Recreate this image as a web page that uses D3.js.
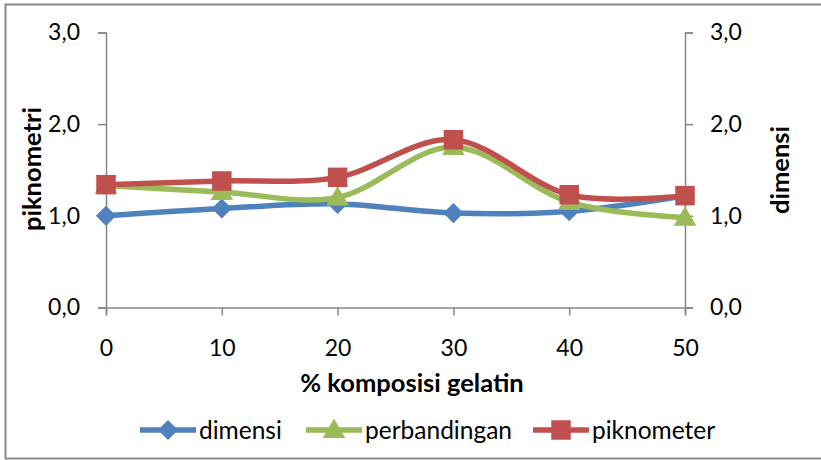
<!DOCTYPE html>
<html>
<head>
<meta charset="utf-8">
<script src="https://cdn.jsdelivr.net/npm/d3@7"></script>
<style>
  html, body { margin: 0; padding: 0; background: #fff; }
  svg { display: block; font-family: Lato, "Liberation Sans", sans-serif; }
</style>
</head>
<body>
<svg id="chart" width="821" height="460"></svg>
<script>
// Gelatin composition (%) on the x axis
const categories = [0, 10, 20, 30, 40, 50];
// Density values per measurement method
const dimensi      = [1.00, 1.08, 1.13, 1.03, 1.05, 1.22];
const perbandingan = [1.33, 1.26, 1.20, 1.75, 1.15, 0.98];
const piknometer   = [1.34, 1.38, 1.42, 1.83, 1.23, 1.22];
const yTicks = [0, 1, 2, 3];
const seriesNames = ["dimensi", "perbandingan", "piknometer"];

const series = [
  { name: seriesNames[0], values: dimensi,      color: "#4F81BD", marker: "diamond" },
  { name: seriesNames[1], values: perbandingan, color: "#9BBB59", marker: "triangle" },
  { name: seriesNames[2], values: piknometer,   color: "#C0504D", marker: "square" }
];

const svg = d3.select("#chart");
const plotLeft = 106, plotRight = 685, plotTop = 32.5, plotBottom = 307.5;
const axisColor = "#868686";
const tickFont = "23px";
const titleFont = "25.5px";
const legendFont = "24.5px";
const fmt = v => v.toFixed(1).replace(".", ",");

// outer chart frame
svg.append("rect")
  .attr("x", 5.5).attr("y", 4.5).attr("width", 840).attr("height", 454)
  .attr("fill", "none").attr("stroke", "#8a8a8a").attr("stroke-width", 2);

const x = d3.scalePoint().domain(categories).range([plotLeft, plotRight]);
const y = d3.scaleLinear().domain([0, 3]).range([plotBottom, plotTop]);

function styleAxis(g) {
  g.select(".domain").attr("stroke", axisColor).attr("stroke-width", 1.5);
  g.selectAll(".tick line").attr("stroke", axisColor).attr("stroke-width", 1.5);
  g.selectAll(".tick text").attr("fill", "#000").style("font-size", tickFont)
    .style("font-family", "Lato, 'Liberation Sans', sans-serif");
}

// left axis
svg.append("g").attr("transform", `translate(${plotLeft},0)`)
  .call(d3.axisLeft(y).tickValues(yTicks).tickFormat(fmt).tickSizeOuter(0).tickSize(8).tickPadding(18))
  .call(styleAxis);

// right axis
svg.append("g").attr("transform", `translate(${plotRight},0)`)
  .call(d3.axisRight(y).tickValues(yTicks).tickFormat(fmt).tickSizeOuter(0).tickSize(8).tickPadding(17))
  .call(styleAxis);

// bottom axis
svg.append("g").attr("transform", `translate(0,${plotBottom})`)
  .call(d3.axisBottom(x).tickSizeOuter(0).tickSize(8).tickPadding(24))
  .call(styleAxis);

// axis titles
svg.append("text").attr("transform", "translate(41,169) rotate(-90)")
  .attr("text-anchor", "middle").style("font-size", titleFont).style("font-weight", "bold")
  .text("piknometri");
svg.append("text").attr("transform", "translate(789,170) rotate(-90)")
  .attr("text-anchor", "middle").style("font-size", titleFont).style("font-weight", "bold")
  .text("dimensi");
svg.append("text").attr("x", 412).attr("y", 392)
  .attr("text-anchor", "middle").style("font-size", titleFont).style("font-weight", "bold")
  .text("% komposisi gelatin");

const symbolFor = {
  diamond: d3.symbol().type(d3.symbolDiamond2).size(260),
  triangle: d3.symbol().type(d3.symbolTriangle).size(220),
  square: d3.symbol().type(d3.symbolSquare).size(380)
};

const line = d3.line()
  .x((d, i) => x(categories[i]))
  .y(d => y(d))
  .curve(d3.curveCatmullRom.alpha(0));

series.forEach(s => {
  const g = svg.append("g");
  g.append("path").attr("d", line(s.values))
    .attr("fill", "none").attr("stroke", s.color).attr("stroke-width", 5.5)
    .attr("stroke-linejoin", "round");
  g.selectAll("path.m").data(s.values).join("path").attr("class", "m")
    .attr("transform", (d, i) => `translate(${x(categories[i])},${y(d) + (s.marker === "triangle" ? 1.5 : 0)})`)
    .attr("d", symbolFor[s.marker]())
    .attr("fill", s.color);
});

// legend
const legendX = [140, 306, 533];
const legend = svg.append("g");
series.forEach((s, i) => {
  const g = legend.append("g").attr("transform", `translate(${legendX[i]},430)`);
  g.append("line").attr("x1", 0).attr("x2", 56).attr("y1", 0).attr("y2", 0)
    .attr("stroke", s.color).attr("stroke-width", 5.5);
  g.append("path").attr("transform", `translate(28,${s.marker === "triangle" ? 1.5 : 0})`)
    .attr("d", symbolFor[s.marker]()).attr("fill", s.color);
  g.append("text").attr("x", 59).attr("y", 8.5).style("font-size", legendFont).text(s.name);
});
</script>
</body>
</html>
